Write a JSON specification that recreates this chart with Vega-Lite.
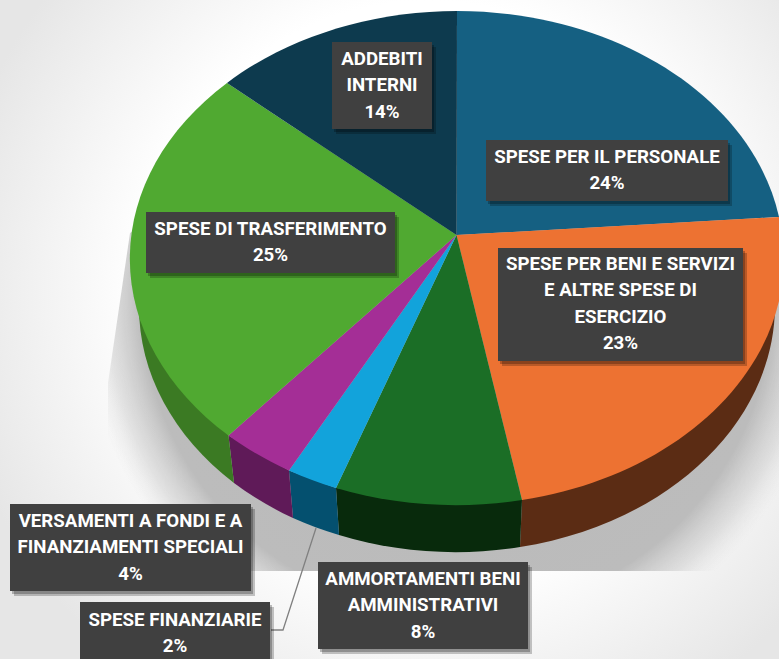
{"$schema":"https://vega.github.io/schema/vega-lite/v6.json","width":779,"height":659,"padding":0,"autosize":{"type":"none"},"background":"white","config":{"view":{"stroke":null}},
"data":{"values":[
{"voce":"SPESE PER IL PERSONALE","percent":24,"etichetta":"SPESE PER IL PERSONALE\n24%"},
{"voce":"SPESE PER BENI E SERVIZI E ALTRE SPESE DI ESERCIZIO","percent":23,"etichetta":"SPESE PER BENI E SERVIZI\nE ALTRE SPESE DI\nESERCIZIO\n23%"},
{"voce":"AMMORTAMENTI BENI AMMINISTRATIVI","percent":8,"etichetta":"AMMORTAMENTI BENI\nAMMINISTRATIVI\n8%"},
{"voce":"SPESE FINANZIARIE","percent":2,"etichetta":"SPESE FINANZIARIE\n2%"},
{"voce":"VERSAMENTI A FONDI E A FINANZIAMENTI SPECIALI","percent":4,"etichetta":"VERSAMENTI A FONDI E A\nFINANZIAMENTI SPECIALI\n4%"},
{"voce":"SPESE DI TRASFERIMENTO","percent":25,"etichetta":"SPESE DI TRASFERIMENTO\n25%"},
{"voce":"ADDEBITI INTERNI","percent":14,"etichetta":"ADDEBITI\nINTERNI\n14%"}
]},
"layer":[
{"data":{"values":[{"elemento":"sfondo"}]},"mark":{"type":"point","size":4,"opacity":1,"filled":true,"strokeWidth":0,"shape":"M-389.5,-329.5 L389.5,-329.5 L389.5,329.5 L-389.5,329.5 Z","fill":{"gradient":"radial","x1":0.55,"y1":0.45,"r1":0,"x2":0.55,"y2":0.45,"r2":0.62,"stops":[{"offset":0,"color":"#ffffff"},{"offset":0.6,"color":"#ffffff"},{"offset":1,"color":"#e6e6e6"}]}},"encoding":{}},
{"data":{"values":[{"elemento":"ombra"}]},"mark":{"type":"point","size":4,"opacity":1,"filled":true,"strokeWidth":0,"shape":"M67.5,-289.5 L-259.5,-96.5 L-281.5,53.5 L-281.5,241.5 L389.5,241.5 L389.5,-96.5 Z","fill":{"gradient":"radial","x1":0.52,"y1":0.49,"r1":0,"x2":0.52,"y2":0.49,"r2":0.56,"stops":[{"offset":0,"color":"rgba(184,184,184,1)"},{"offset":0.84,"color":"rgba(188,188,188,1)"},{"offset":0.93,"color":"rgba(200,200,200,0.5)"},{"offset":1,"color":"rgba(220,220,220,0)"}]}},"encoding":{}},
{"transform":[{"filter":{"field":"voce","oneOf":["SPESE PER BENI E SERVIZI E ALTRE SPESE DI ESERCIZIO","AMMORTAMENTI BENI AMMINISTRATIVI","SPESE FINANZIARIE","VERSAMENTI A FONDI E A FINANZIAMENTI SPECIALI","SPESE DI TRASFERIMENTO"]}}],
"mark":{"type":"point","size":4,"opacity":1,"filled":true,"strokeWidth":0},
"encoding":{"shape":{"field":"voce","type":"nominal","legend":null,"scale":{"domain":["SPESE PER BENI E SERVIZI E ALTRE SPESE DI ESERCIZIO","AMMORTAMENTI BENI AMMINISTRATIVI","SPESE FINANZIARIE","VERSAMENTI A FONDI E A FINANZIAMENTI SPECIALI","SPESE DI TRASFERIMENTO"],"range":[
"M389.5,-50 L385.5,-23.5 A318,247 0 0 1 130.5,217.5 L132.5,170.5 Z",
"M132.5,170.5 L130.5,217.5 A318,247 0 0 1 -50.5,205.5 L-53.5,158.5 Z",
"M-53.5,158.5 L-50.5,205.5 A318,247 0 0 1 -96.5,188.5 L-100.5,141 Z",
"M-100.5,141 L-96.5,188.5 A318,247 0 0 1 -155.5,153.5 L-161,106 Z",
"M-161,106 L-155.5,153.5 A318,247 0 0 1 -250.5,-23.5 L-250,-60 Z"]}},
"fill":{"field":"voce","type":"nominal","legend":null,"scale":{"domain":["SPESE PER BENI E SERVIZI E ALTRE SPESE DI ESERCIZIO","AMMORTAMENTI BENI AMMINISTRATIVI","SPESE FINANZIARIE","VERSAMENTI A FONDI E A FINANZIAMENTI SPECIALI","SPESE DI TRASFERIMENTO"],"range":["#5B2C14","#082A0C","#04506F","#5F1A58","#3B7A23"]}}}},
{"mark":{"type":"point","size":4,"opacity":1,"filled":true,"strokeWidth":0},
"encoding":{"shape":{"field":"voce","type":"nominal","legend":null,"scale":{"domain":["SPESE PER IL PERSONALE","SPESE PER BENI E SERVIZI E ALTRE SPESE DI ESERCIZIO","AMMORTAMENTI BENI AMMINISTRATIVI","SPESE FINANZIARIE","VERSAMENTI A FONDI E A FINANZIAMENTI SPECIALI","SPESE DI TRASFERIMENTO","ADDEBITI INTERNI"],"range":[
"M67,-94.5 L67.5,-318.5 A327,247 0 0 1 389.5,-112.5 Z",
"M67,-94.5 L389.5,-112.5 L389.5,-28.5 A327,247 0 0 1 132.5,170.5 Z",
"M67,-94.5 L132.5,170.5 A327,247 0 0 1 -53.5,158.5 Z",
"M67,-94.5 L-53.5,158.5 A327,247 0 0 1 -100.5,141 Z",
"M67,-94.5 L-100.5,141 A327,247 0 0 1 -161,106 Z",
"M67,-94.5 L-161,106 A327,247 0 0 1 -162.5,-246.5 Z",
"M67,-94.5 L-162.5,-246.5 A327,247 0 0 1 67.5,-318.5 Z"]}},
"fill":{"field":"voce","type":"nominal","legend":null,"scale":{"domain":["SPESE PER IL PERSONALE","SPESE PER BENI E SERVIZI E ALTRE SPESE DI ESERCIZIO","AMMORTAMENTI BENI AMMINISTRATIVI","SPESE FINANZIARIE","VERSAMENTI A FONDI E A FINANZIAMENTI SPECIALI","SPESE DI TRASFERIMENTO","ADDEBITI INTERNI"],"range":["#156082","#ED7232","#1B6E26","#12A3DB","#A42E96","#50A931","#0D3A4E"]}}}},
{"transform":[{"filter":{"field":"voce","equal":"SPESE FINANZIARIE"}}],"mark":{"type":"point","size":4,"opacity":1,"filled":false,"fill":null,"stroke":"#808080","strokeWidth":1.3,"shape":"M-73.5,198.5 L-106.5,300.5 L-118.5,300.5"},"encoding":{}},
{"mark":{"type":"point","size":4,"opacity":0.22,"filled":true,"strokeWidth":0,"fill":"#000000","xOffset":4,"yOffset":5},
"encoding":{"x":{"field":"percent","type":"quantitative","axis":null,"scale":{"zero":false,"nice":false,"domain":[2,4,8,14,23,24,25],"range":[175,130.5,423,382,620.5,607,270.5]}},"y":{"field":"percent","type":"quantitative","axis":null,"scale":{"zero":false,"nice":false,"domain":[2,4,8,14,23,24,25],"range":[632,547.5,605.5,85.5,304.5,170.5,242.5]}},
"shape":{"field":"percent","type":"nominal","legend":null,"scale":{"domain":[2,4,8,14,23,24,25],"range":["M-95,-30 L95,-30 L95,30 L-95,30 Z","M-120.5,-43.5 L120.5,-43.5 L120.5,43.5 L-120.5,43.5 Z","M-105,-43.5 L105,-43.5 L105,43.5 L-105,43.5 Z","M-50,-43.5 L50,-43.5 L50,43.5 L-50,43.5 Z","M-122.5,-56.5 L122.5,-56.5 L122.5,56.5 L-122.5,56.5 Z","M-121,-30.5 L121,-30.5 L121,30.5 L-121,30.5 Z","M-124.5,-30.5 L124.5,-30.5 L124.5,30.5 L-124.5,30.5 Z"]}}}},
{"mark":{"type":"point","size":4,"opacity":0.25,"filled":true,"strokeWidth":0,"fill":"#000000","xOffset":2,"yOffset":3},
"encoding":{"x":{"field":"percent","type":"quantitative","axis":null,"scale":{"zero":false,"nice":false,"domain":[2,4,8,14,23,24,25],"range":[175,130.5,423,382,620.5,607,270.5]}},"y":{"field":"percent","type":"quantitative","axis":null,"scale":{"zero":false,"nice":false,"domain":[2,4,8,14,23,24,25],"range":[632,547.5,605.5,85.5,304.5,170.5,242.5]}},
"shape":{"field":"percent","type":"nominal","legend":null,"scale":{"domain":[2,4,8,14,23,24,25],"range":["M-95,-30 L95,-30 L95,30 L-95,30 Z","M-120.5,-43.5 L120.5,-43.5 L120.5,43.5 L-120.5,43.5 Z","M-105,-43.5 L105,-43.5 L105,43.5 L-105,43.5 Z","M-50,-43.5 L50,-43.5 L50,43.5 L-50,43.5 Z","M-122.5,-56.5 L122.5,-56.5 L122.5,56.5 L-122.5,56.5 Z","M-121,-30.5 L121,-30.5 L121,30.5 L-121,30.5 Z","M-124.5,-30.5 L124.5,-30.5 L124.5,30.5 L-124.5,30.5 Z"]}}}},
{"mark":{"type":"point","size":4,"opacity":1,"filled":true,"strokeWidth":0,"fill":"#404040"},
"encoding":{"x":{"field":"percent","type":"quantitative","axis":null,"scale":{"zero":false,"nice":false,"domain":[2,4,8,14,23,24,25],"range":[175,130.5,423,382,620.5,607,270.5]}},"y":{"field":"percent","type":"quantitative","axis":null,"scale":{"zero":false,"nice":false,"domain":[2,4,8,14,23,24,25],"range":[632,547.5,605.5,85.5,304.5,170.5,242.5]}},
"shape":{"field":"percent","type":"nominal","legend":null,"scale":{"domain":[2,4,8,14,23,24,25],"range":["M-95,-30 L95,-30 L95,30 L-95,30 Z","M-120.5,-43.5 L120.5,-43.5 L120.5,43.5 L-120.5,43.5 Z","M-105,-43.5 L105,-43.5 L105,43.5 L-105,43.5 Z","M-50,-43.5 L50,-43.5 L50,43.5 L-50,43.5 Z","M-122.5,-56.5 L122.5,-56.5 L122.5,56.5 L-122.5,56.5 Z","M-121,-30.5 L121,-30.5 L121,30.5 L-121,30.5 Z","M-124.5,-30.5 L124.5,-30.5 L124.5,30.5 L-124.5,30.5 Z"]}}}},
{"mark":{"type":"text","font":"Roboto","fontWeight":700,"fontSize":18.7,"lineHeight":26.3,"lineBreak":"\n","align":"center","baseline":"middle","color":"#ffffff"},
"encoding":{"x":{"field":"percent","type":"quantitative","axis":null,"scale":{"zero":false,"nice":false,"domain":[2,4,8,14,23,24,25],"range":[175,130.5,423,382,620.5,607,270.5]}},"y":{"field":"percent","type":"quantitative","axis":null,"scale":{"zero":false,"nice":false,"domain":[2,4,8,14,23,24,25],"range":[620,521,579,59,264,157,229]}},
"text":{"field":"etichetta","type":"nominal"}}}
],
"resolve":{"scale":{"shape":"independent","fill":"independent","y":"independent"}}}
